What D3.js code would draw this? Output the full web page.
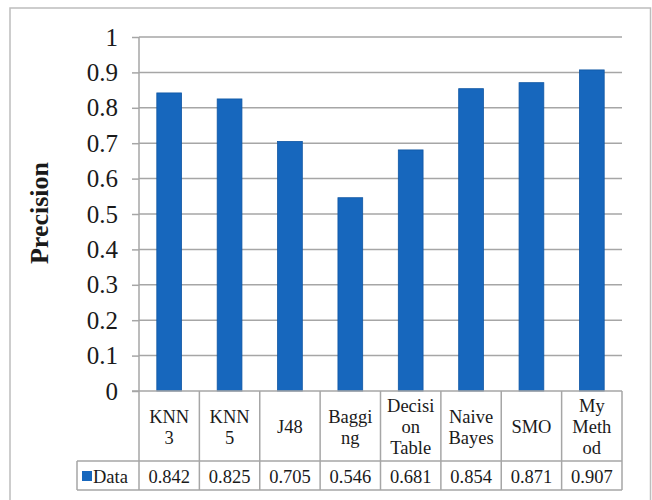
<!DOCTYPE html>
<html>
<head>
<meta charset="utf-8">
<script src="https://cdn.jsdelivr.net/npm/d3@7"></script>
<style>
  html, body { margin: 0; padding: 0; background: #fff; }
  svg { display: block; }
  text { font-family: "Liberation Serif", "Times New Roman", serif; fill: #1a1a1a; }
</style>
</head>
<body>
<svg id="chart" width="652" height="500"></svg>
<script>
// ---- data ----
const categories = ["KNN 3", "KNN 5", "J48", "Bagging", "Decision Table", "Naive Bayes", "SMO", "My Method"];
const categoryLabelLines = [["KNN", "3"], ["KNN", "5"], ["J48"], ["Baggi", "ng"], ["Decisi", "on", "Table"], ["Naive", "Bayes"], ["SMO"], ["My", "Meth", "od"]];
const values = [0.842, 0.825, 0.705, 0.546, 0.681, 0.854, 0.871, 0.907];
const seriesName = "Data";
const yTicks = [0, 0.1, 0.2, 0.3, 0.4, 0.5, 0.6, 0.7, 0.8, 0.9, 1];
const yTickLabels = ["0", "0.1", "0.2", "0.3", "0.4", "0.5", "0.6", "0.7", "0.8", "0.9", "1"];
const yLabel = "Precision";

// ---- layout ----
const svg = d3.select("#chart");
const plotLeft = 139, plotRight = 622, plotTop = 37, plotBottom = 391;
const tableMid = 461, tableBottom = 490, legendLeft = 77;
const gridColor = "#a6a6a6";
const barColor = "#1767bd";

// outer frame
svg.append("rect").attr("x", 10).attr("y", 8).attr("width", 640.5).attr("height", 520)
  .attr("fill", "none").attr("stroke", "#bdbdbd").attr("stroke-width", 1.5);

const x = d3.scaleBand().domain(categories).range([plotLeft, plotRight]).paddingInner(0).paddingOuter(0);
const y = d3.scaleLinear().domain([0, 1]).range([plotBottom, plotTop]);

// gridlines
svg.append("g").selectAll("line").data(yTicks.filter(d => d > 0)).join("line")
  .attr("x1", plotLeft).attr("x2", plotRight)
  .attr("y1", d => y(d)).attr("y2", d => y(d))
  .attr("stroke", gridColor).attr("stroke-width", 1.5);

// y axis
const yAxis = d3.axisLeft(y).tickValues(yTicks).tickSize(7).tickPadding(14)
  .tickFormat((d, i) => yTickLabels[i]);
const ga = svg.append("g").attr("transform", `translate(${plotLeft},0)`).call(yAxis);
ga.select(".domain").remove();
ga.selectAll(".tick line").attr("stroke", gridColor).attr("stroke-width", 1.5);
ga.selectAll(".tick text").attr("font-size", 25).attr("font-family", "Liberation Serif").attr("fill", "#1a1a1a");

// y axis line
svg.append("line").attr("x1", plotLeft).attr("x2", plotLeft).attr("y1", plotTop).attr("y2", plotBottom)
  .attr("stroke", gridColor).attr("stroke-width", 1.5);

// bars
const barW = x.bandwidth() * 0.41;
svg.append("g").selectAll("rect").data(values).join("rect")
  .attr("x", (d, i) => x(categories[i]) + (x.bandwidth() - barW) / 2)
  .attr("width", barW)
  .attr("y", d => y(d))
  .attr("height", d => y(0) - y(d))
  .attr("fill", barColor)
  .attr("stroke", "#0f56a3").attr("stroke-width", 0.8);

// y label
svg.append("text").attr("transform", `translate(47.5,213) rotate(-90)`)
  .attr("text-anchor", "middle").attr("font-size", 26).attr("font-weight", "bold").text(yLabel);

// ---- data table ----
const tg = svg.append("g");
const line = (x1, y1, x2, y2) => tg.append("line").attr("x1", x1).attr("y1", y1).attr("x2", x2).attr("y2", y2)
  .attr("stroke", gridColor).attr("stroke-width", 1.5);
// horizontal lines
line(plotLeft - 7, plotBottom, plotRight, plotBottom);
line(legendLeft, tableMid, plotRight, tableMid);
line(legendLeft, tableBottom, plotRight, tableBottom);
// vertical lines
line(legendLeft, tableMid, legendLeft, tableBottom);
line(plotLeft, plotBottom, plotLeft, tableBottom);
categories.forEach(c => { const xr = x(c) + x.bandwidth(); line(xr, plotBottom, xr, tableBottom); });

// category labels
const lh = 21;
categories.forEach((c, i) => {
  const lines = categoryLabelLines[i];
  const cx = x(c) + x.bandwidth() / 2;
  const cy = 427;
  const t = tg.append("text").attr("text-anchor", "middle").attr("font-size", 18.5);
  lines.forEach((l, j) => {
    t.append("tspan").attr("x", cx).attr("y", cy + (j - (lines.length - 1) / 2) * lh).attr("dy", "0.35em").text(l);
  });
});

// values row
const rowY = (tableMid + tableBottom) / 2 + 1;
tg.selectAll("text.val").data(values).join("text").attr("class", "val")
  .attr("x", (d, i) => x(categories[i]) + x.bandwidth() / 2)
  .attr("y", rowY).attr("dy", "0.35em").attr("text-anchor", "middle").attr("font-size", 18.5)
  .text(d => d3.format(".3f")(d));

// legend cell
tg.append("rect").attr("x", 82).attr("y", rowY - 5.5).attr("width", 10).attr("height", 10).attr("fill", barColor);
tg.append("text").attr("x", 93).attr("y", rowY).attr("dy", "0.35em").attr("font-size", 18.5).text(seriesName);
</script>
</body>
</html>
